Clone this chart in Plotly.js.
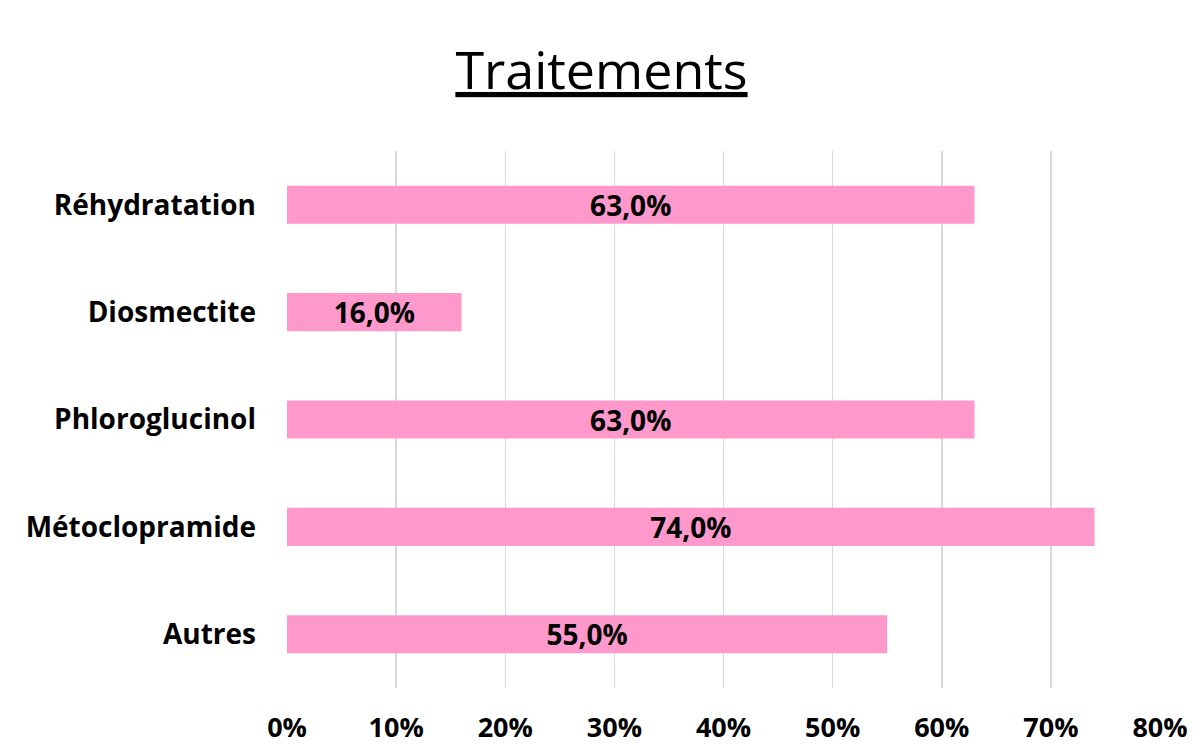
<!DOCTYPE html>
<html>
<head>
<meta charset="utf-8">
<script src="https://cdn.plot.ly/plotly-3.0.1.min.js"></script>
<style>html,body{margin:0;padding:0;background:#fff;}#chart{width:1203px;height:745px;}</style>
</head>
<body>
<div id="chart"></div>
<script>
const categories = ["Autres", "Métoclopramide", "Phloroglucinol", "Diosmectite", "Réhydratation"];
const values = [0.55, 0.74, 0.63, 0.16, 0.63];
const labels = ["55,0%", "74,0%", "63,0%", "16,0%", "63,0%"];
const tickVals = [0, 0.1, 0.2, 0.3, 0.4, 0.5, 0.6, 0.7, 0.8];
const tickText = ["0%", "10%", "20%", "30%", "40%", "50%", "60%", "70%", "80%"];

const FONT = "'Open Sans', sans-serif";

Plotly.newPlot("chart", [{
  type: "bar",
  orientation: "h",
  y: categories,
  x: values,
  text: labels,
  textposition: "inside",
  insidetextanchor: "middle",
  constraintext: "none",
  textangle: 0,
  textfont: {family: FONT, size: 28, color: "#000", weight: "bold"},
  marker: {color: "#FF99CC"},
  width: 0.355,
  hoverinfo: "none"
}], {
  width: 1203, height: 745,
  margin: {l: 287, r: 43, t: 151, b: 57},
  paper_bgcolor: "#fff", plot_bgcolor: "#fff",
  showlegend: false,
  title: {
    text: "<u>Traitements</u>",
    font: {family: FONT, size: 52, color: "#000"},
    x: 0.5, xanchor: "center", xref: "container",
    y: 0.905, yanchor: "middle", yref: "container"
  },
  xaxis: {
    range: [0, 0.8],
    tickvals: tickVals, ticktext: tickText,
    showgrid: true, gridcolor: "#d9d9d9", gridwidth: 1.5,
    zeroline: false, showline: false,
    ticks: "", ticklabelstandoff: 21,
    tickfont: {family: FONT, size: 27, color: "#000", weight: "bold"},
    fixedrange: true
  },
  yaxis: {
    type: "category",
    categoryorder: "array", categoryarray: categories,
    range: [-0.5, 4.5],
    showgrid: false, zeroline: false, showline: false,
    ticks: "", ticklabelstandoff: 30,
    tickfont: {family: FONT, size: 28, color: "#000", weight: "bold"},
    fixedrange: true
  }
}, {displayModeBar: false, staticPlot: true});
</script>
</body>
</html>
